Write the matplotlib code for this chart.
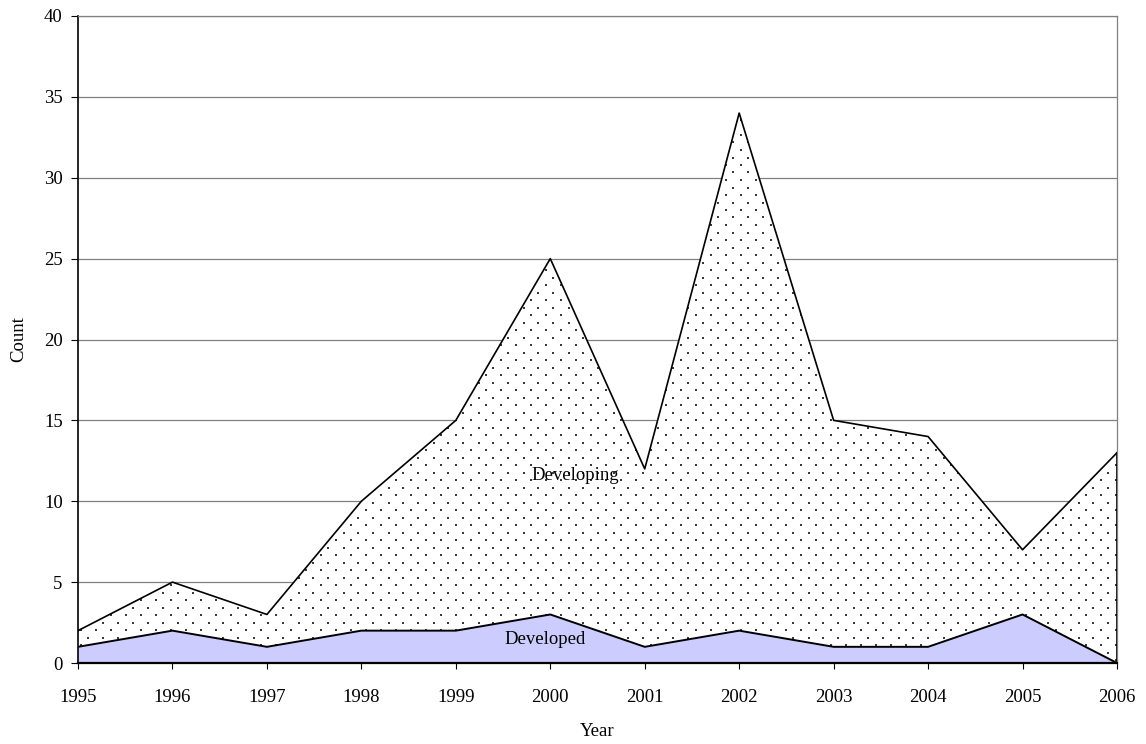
import matplotlib
matplotlib.use("Agg")
import matplotlib.pyplot as plt
import numpy as np

years = [1995, 1996, 1997, 1998, 1999, 2000, 2001, 2002, 2003, 2004, 2005, 2006]
developed = [1, 2, 1, 2, 2, 3, 1, 2, 1, 1, 3, 0]
developing = [1, 3, 2, 8, 13, 22, 11, 32, 14, 13, 4, 13]
yticks = [0, 5, 10, 15, 20, 25, 30, 35, 40]

plt.rcParams['font.family'] = ['Liberation Serif', 'DejaVu Serif']

W, H = 1146, 744
fig = plt.figure(figsize=(W / 100, H / 100), dpi=100)
L, R, T, B = 78, 1117, 16, 663
ax = fig.add_axes([L / W, 1 - B / H, (R - L) / W, (B - T) / H])

yrs = np.array(years)
dev = np.array(developed)
total = dev + np.array(developing)

ax.set_xlim(1995, 2006)
ax.set_ylim(0, 40)

for y in yticks[1:]:
    ax.axhline(y, color='#808080', lw=0.9, zorder=0)

ax.fill_between(yrs, 0, dev, facecolor='#CCCCFF', edgecolor='none', zorder=1)
coll = ax.fill_between(yrs, dev, total, facecolor='white', edgecolor='none', zorder=1)

# dotted texture (staggered pixel grid) clipped to the Developing area
gx, gy = [], []
row = 0
yy = B - 3.0
while yy > T:
    off = 0 if row % 2 == 0 else 7.5
    for xx in np.arange(L + 3 + off, R, 15.0):
        gx.append(xx)
        gy.append(H - yy)
    yy -= 7.5
    row += 1
pts = ax.transData.inverted().transform(np.column_stack([gx, gy]))
sc = ax.scatter(pts[:, 0], pts[:, 1], s=1.6, marker='s', color='#3a3a3a',
                linewidths=0, zorder=2)
sc.set_clip_path(coll.get_paths()[0], ax.transData)

ax.plot(yrs, dev, color='black', lw=1.4, zorder=3)
ax.plot(yrs, total, color='black', lw=1.2, zorder=3)
ax.plot([yrs[-1], yrs[-1]], [0, total[-1]], color='black', lw=1.2, zorder=3)

ax.text(2000.26, 11.6, 'Developing', ha='center', va='center', fontsize=13.5, zorder=4)
ax.text(1999.95, 1.48, 'Developed', ha='center', va='center', fontsize=13.5, zorder=4)

ax.set_xticks(years)
ax.set_xticklabels([str(y) for y in years])
ax.set_yticks(yticks)
ax.tick_params(axis='x', direction='out', length=4, pad=15, labelsize=13.5, width=0.8)
ax.tick_params(axis='y', direction='out', length=5, pad=6, labelsize=13.5, width=0.8)

for s in ['top', 'right']:
    ax.spines[s].set_color('#808080')
    ax.spines[s].set_linewidth(0.9)
ax.spines['left'].set_linewidth(1.2)
ax.spines['bottom'].set_linewidth(1.6)

ax.set_xlabel('Year', fontsize=13.5, labelpad=12)
ax.set_ylabel('Count', fontsize=13.5, labelpad=12)

fig.savefig('out.png', dpi=100)
